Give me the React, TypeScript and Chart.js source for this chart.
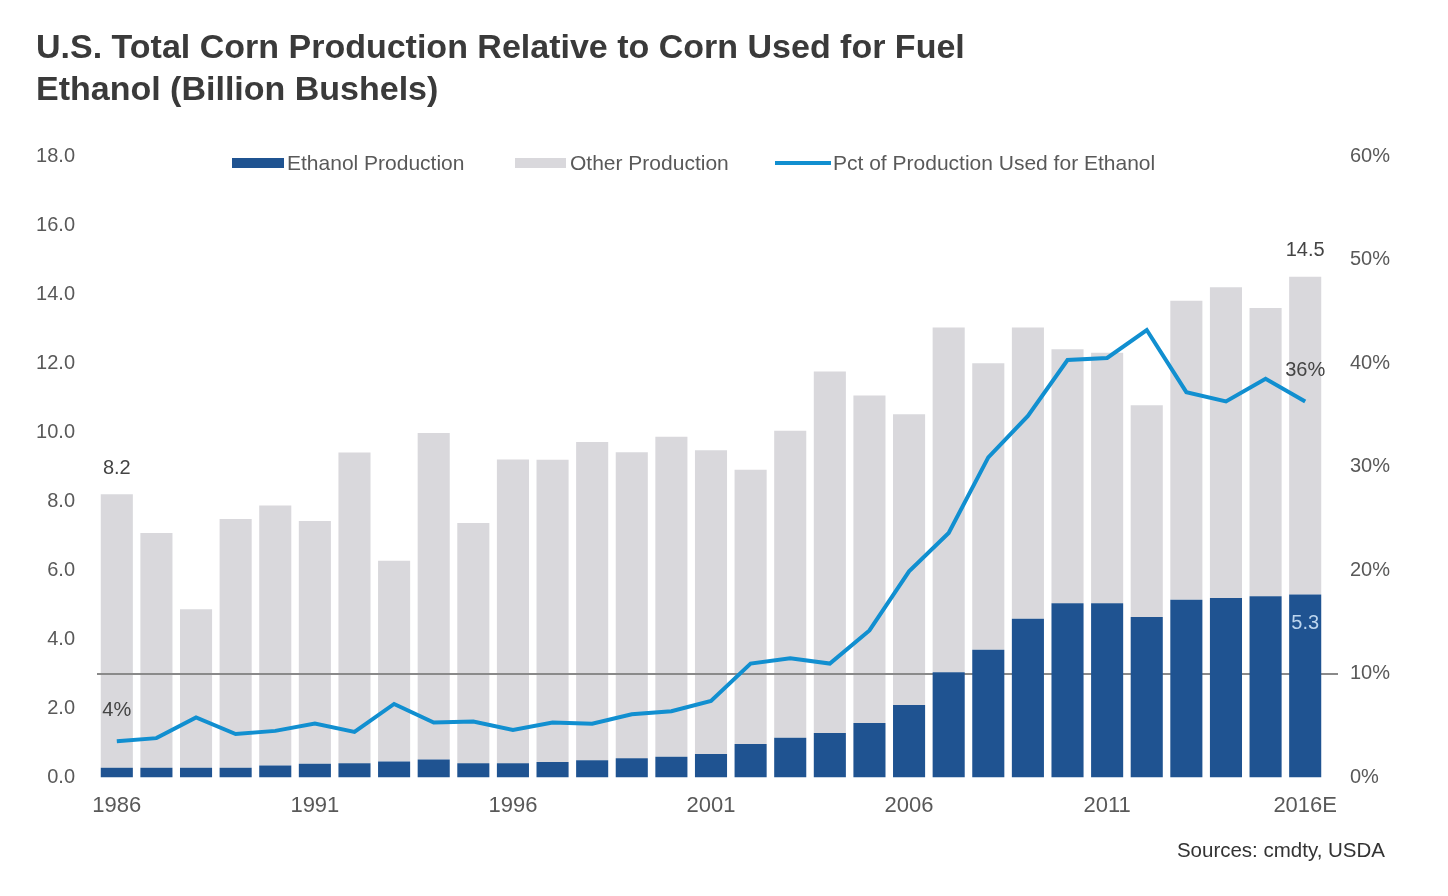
import React, { useEffect, useRef } from "react";
import { Chart, registerables } from "chart.js";

Chart.register(...registerables);

const years = [
  "1986", "1987", "1988", "1989", "1990", "1991", "1992", "1993", "1994", "1995",
  "1996", "1997", "1998", "1999", "2000", "2001", "2002", "2003", "2004", "2005",
  "2006", "2007", "2008", "2009", "2010", "2011", "2012", "2013", "2014", "2015", "2016E",
];

// Corn used for fuel ethanol (billion bushels)
const ethanolProduction = [
  0.28, 0.28, 0.28, 0.28, 0.35, 0.4, 0.41, 0.46, 0.52, 0.41,
  0.41, 0.45, 0.5, 0.56, 0.6, 0.68, 0.97, 1.15, 1.29, 1.58,
  2.1, 3.05, 3.7, 4.6, 5.05, 5.05, 4.65, 5.15, 5.2, 5.25, 5.3,
];

// Remaining corn production (billion bushels)
const otherProduction = [
  7.92, 6.8, 4.59, 7.21, 7.53, 7.03, 9.0, 5.82, 9.46, 6.96,
  8.8, 8.75, 9.22, 8.86, 9.27, 8.8, 7.94, 8.89, 10.47, 9.48,
  8.42, 9.98, 8.3, 8.43, 7.35, 7.25, 6.13, 8.66, 9.0, 8.35, 9.2,
];

// Percent of production used for ethanol
const pctForEthanol = [
  3.5, 3.8, 5.8, 4.2, 4.5, 5.2, 4.4, 7.1, 5.3, 5.4,
  4.6, 5.3, 5.2, 6.1, 6.4, 7.4, 11.0, 11.5, 11.0, 14.2,
  19.9, 23.6, 30.9, 34.9, 40.3, 40.5, 43.2, 37.2, 36.3, 38.5, 36.3,
];

const leftTicks = { min: 0, max: 18, step: 2 };
const rightTicks = { min: 0, max: 60, step: 10 };
const referencePct = 10;

const totalLabels = [
  { index: 0, text: "8.2" },
  { index: 30, text: "14.5" },
];
const pctLabels = [
  { index: 0, text: "4%" },
  { index: 30, text: "36%" },
];
const ethanolLabels = [{ index: 30, text: "5.3" }];

const DARK_BLUE = "#1f5391";
const GRAY = "#d9d8dc";
const LINE_BLUE = "#118fd0";
const TEXT = "#595959";
const FONT = "'Liberation Sans', Arial, sans-serif";

const overlayPlugin = {
  id: "overlay",
  beforeDatasetDraw(chart: any, args: any) {
    if (args.index !== 1) return;
    const { ctx, chartArea, scales } = chart;
    const y = scales.y1.getPixelForValue(referencePct);
    ctx.save();
    ctx.strokeStyle = "#8a8a8a";
    ctx.lineWidth = 2;
    ctx.beginPath();
    ctx.moveTo(chartArea.left, y);
    ctx.lineTo(chartArea.right + 13, y);
    ctx.stroke();
    ctx.restore();
  },
  afterDatasetsDraw(chart: any) {
    const { ctx, scales } = chart;
    ctx.save();
    ctx.font = `20px ${FONT}`;
    ctx.textAlign = "center";
    ctx.fillStyle = "#444444";
    ctx.textBaseline = "bottom";
    totalLabels.forEach((l) => {
      const x = scales.x.getPixelForValue(l.index);
      const total = ethanolProduction[l.index] + otherProduction[l.index];
      const y = scales.y.getPixelForValue(total);
      ctx.fillText(l.text, x, y - 16);
    });
    pctLabels.forEach((l) => {
      const x = scales.x.getPixelForValue(l.index);
      const y = scales.y1.getPixelForValue(pctForEthanol[l.index]);
      ctx.fillText(l.text, x, y - 21);
    });
    ctx.fillStyle = "#bcd5ee";
    ctx.textBaseline = "top";
    ethanolLabels.forEach((l) => {
      const x = scales.x.getPixelForValue(l.index);
      const y = scales.y.getPixelForValue(ethanolProduction[l.index]);
      ctx.fillText(l.text, x, y + 19);
    });
    ctx.restore();
  },
};

export default function App() {
  const canvasRef = useRef<HTMLCanvasElement | null>(null);

  useEffect(() => {
    if (!canvasRef.current) return;
    const chart = new Chart(canvasRef.current, {
      type: "bar",
      data: {
        labels: years,
        datasets: [
          {
            type: "line",
            label: "Pct of Production Used for Ethanol",
            data: pctForEthanol,
            yAxisID: "y1",
            borderColor: LINE_BLUE,
            borderWidth: 4,
            pointRadius: 0,
            tension: 0,
            fill: false,
          } as any,
          {
            label: "Ethanol Production",
            data: ethanolProduction,
            backgroundColor: DARK_BLUE,
            yAxisID: "y",
            barPercentage: 0.81,
            categoryPercentage: 1,
          },
          {
            label: "Other Production",
            data: otherProduction,
            backgroundColor: GRAY,
            yAxisID: "y",
            barPercentage: 0.81,
            categoryPercentage: 1,
          },
        ],
      },
      options: {
        responsive: false,
        animation: false,
        layout: { padding: { top: 156, left: 0, right: 0, bottom: 0 } },
        plugins: {
          legend: { display: false },
          title: { display: false },
          tooltip: { enabled: false },
        },
        scales: {
          x: {
            stacked: true,
            grid: { display: false, drawTicks: false },
            border: { display: false },
            ticks: {
              autoSkip: false,
              maxRotation: 0,
              minRotation: 0,
              padding: 15,
              color: TEXT,
              font: { family: FONT, size: 22 },
              callback: (v: any, i: number) => (i % 5 === 0 ? years[i] : ""),
            },
            afterFit: (s: any) => {
              s.height = 118.5;
            },
          },
          y: {
            stacked: true,
            position: "left",
            min: leftTicks.min,
            max: leftTicks.max,
            grid: { display: false, drawTicks: false },
            border: { display: false },
            ticks: {
              stepSize: leftTicks.step,
              padding: 22,
              color: TEXT,
              font: { family: FONT, size: 20 },
              callback: (v: any) => Number(v).toFixed(1),
            },
            afterFit: (s: any) => {
              s.width = 97;
            },
          },
          y1: {
            stacked: false,
            position: "right",
            min: rightTicks.min,
            max: rightTicks.max,
            grid: { display: false, drawTicks: false },
            border: { display: false },
            ticks: {
              stepSize: rightTicks.step,
              padding: 25,
              color: TEXT,
              font: { family: FONT, size: 20 },
              callback: (v: any) => `${v}%`,
            },
            afterFit: (s: any) => {
              s.width = 123;
            },
          },
        },
      },
      plugins: [overlayPlugin],
    });
    return () => chart.destroy();
  }, []);

  const legendText: React.CSSProperties = {
    fontFamily: FONT,
    fontSize: 21,
    color: TEXT,
    lineHeight: "24px",
    whiteSpace: "nowrap",
  };

  return (
    <div
      style={{
        position: "absolute",
        left: 0,
        top: 0,
        width: 1448,
        height: 896,
        background: "#ffffff",
        overflow: "hidden",
      }}
    >
      <canvas
        ref={canvasRef}
        width={1448}
        height={896}
        style={{ position: "absolute", left: 0, top: 0, width: 1448, height: 896 }}
      />
      <div
        style={{
          position: "absolute",
          left: 36,
          top: 25,
          fontFamily: FONT,
          fontWeight: "bold",
          fontSize: 34,
          lineHeight: "42px",
          color: "#3a3a3a",
          whiteSpace: "nowrap",
        }}
      >
        <div>U.S. Total Corn Production Relative to Corn Used for Fuel</div>
        <div>Ethanol (Billion Bushels)</div>
      </div>
      <div style={{ position: "absolute", left: 232, top: 151, height: 24, display: "flex", alignItems: "center" }}>
        <div style={{ width: 52, height: 10, background: DARK_BLUE, marginRight: 3 }} />
        <span style={legendText}>Ethanol Production</span>
      </div>
      <div style={{ position: "absolute", left: 515, top: 151, height: 24, display: "flex", alignItems: "center" }}>
        <div style={{ width: 51, height: 10, background: GRAY, marginRight: 4 }} />
        <span style={legendText}>Other Production</span>
      </div>
      <div style={{ position: "absolute", left: 775, top: 151, height: 24, display: "flex", alignItems: "center" }}>
        <div style={{ width: 56, height: 4, background: LINE_BLUE, marginRight: 2 }} />
        <span style={legendText}>Pct of Production Used for Ethanol</span>
      </div>
      <div
        style={{
          position: "absolute",
          right: 63,
          top: 838,
          fontFamily: FONT,
          fontSize: 20.5,
          lineHeight: "24px",
          color: "#333333",
          whiteSpace: "nowrap",
        }}
      >
        Sources: cmdty, USDA
      </div>
    </div>
  );
}
